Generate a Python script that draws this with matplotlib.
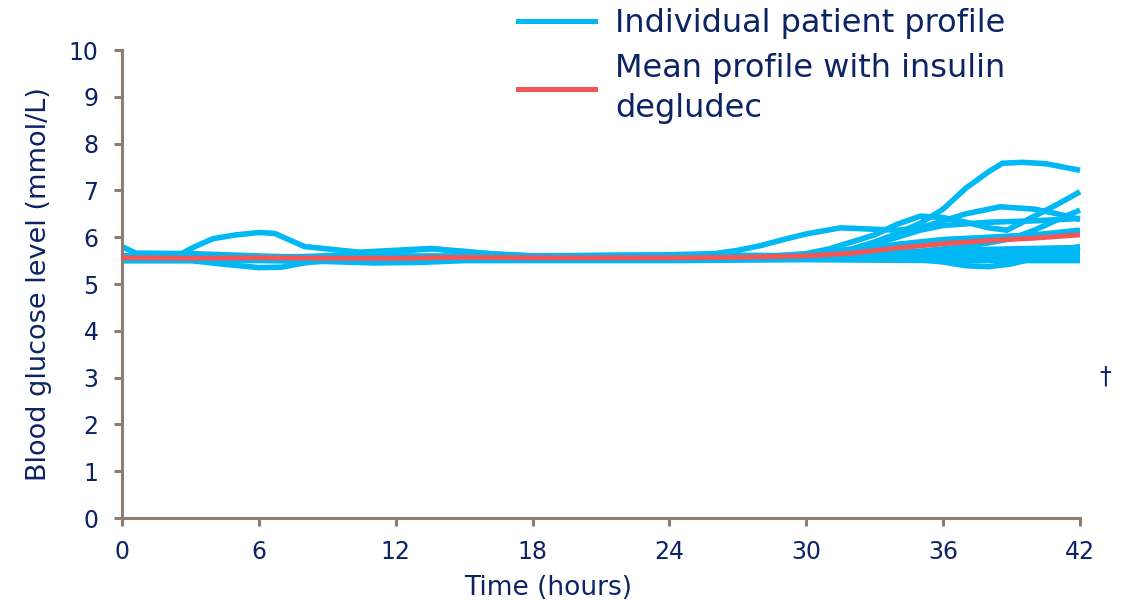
import matplotlib.pyplot as plt
from matplotlib.lines import Line2D

# colours
BLUE = "#00b8f4"
RED = "#f45555"
NAVY = "#0c2364"
AXIS = "#8c7e72"

# individual patient profiles (hours, mmol/L)
p01_t = [0, 6, 12, 18, 24, 28, 30, 32, 33, 34, 35, 36, 37, 38, 38.6, 39.5, 40.5, 42]
p01_v = [5.55, 5.52, 5.55, 5.55, 5.56, 5.58, 5.62, 5.75, 5.9, 6.08, 6.3, 6.6, 7.05, 7.4, 7.58, 7.6, 7.57, 7.43]

p02_t = [0, 2.5, 3.2, 4, 5, 6, 6.7, 7.3, 8, 9, 10.4, 12, 13.6, 15, 18, 22, 26, 27, 28, 29, 30, 31.5, 33, 34, 35, 36, 37, 38.5, 40, 41, 42]
p02_v = [5.6, 5.62, 5.8, 5.97, 6.05, 6.1, 6.08, 5.95, 5.8, 5.75, 5.68, 5.72, 5.76, 5.68, 5.6, 5.6, 5.65, 5.72, 5.82, 5.95, 6.07, 6.2, 6.17, 6.15, 6.2, 6.35, 6.5, 6.65, 6.6, 6.5, 6.38]

p03_t = [0, 6, 12, 18, 24, 28, 30, 31, 32, 33, 34, 35, 36, 37, 38, 38.8, 40, 41, 42]
p03_v = [5.55, 5.55, 5.55, 5.55, 5.55, 5.58, 5.65, 5.75, 5.9, 6.05, 6.28, 6.45, 6.42, 6.32, 6.2, 6.15, 6.45, 6.7, 6.97]

p04_t = [0, 6, 12, 18, 24, 30, 34, 36, 37, 38, 39, 40, 41, 42]
p04_v = [5.55, 5.55, 5.55, 5.55, 5.55, 5.6, 5.65, 5.75, 5.8, 5.88, 5.97, 6.15, 6.37, 6.58]

p05_t = [0, 6, 12, 18, 24, 28, 30, 32, 33, 34, 35, 36, 38, 40, 42]
p05_v = [5.52, 5.52, 5.52, 5.52, 5.52, 5.55, 5.62, 5.72, 5.85, 6.0, 6.15, 6.25, 6.32, 6.35, 6.4]

p06_t = [0, 3, 4.5, 6, 7, 8, 9, 12, 18, 24, 30, 33, 35, 36, 37, 38, 39, 40, 40.5, 41, 42]
p06_v = [5.5, 5.5, 5.42, 5.35, 5.36, 5.45, 5.5, 5.5, 5.52, 5.52, 5.55, 5.58, 5.52, 5.47, 5.39, 5.37, 5.43, 5.55, 5.66, 5.72, 5.8]

p07_t = [0, 0.6, 3, 6, 9, 12, 18, 24, 30, 34, 38, 42]
p07_v = [5.8, 5.66, 5.65, 5.6, 5.55, 5.55, 5.57, 5.57, 5.6, 5.68, 5.74, 5.78]

p08_t = [0, 6, 8, 10, 12, 13.6, 15, 16.5, 18, 22, 26, 30, 34, 38, 42]
p08_v = [5.55, 5.55, 5.58, 5.63, 5.7, 5.75, 5.7, 5.63, 5.6, 5.62, 5.62, 5.6, 5.58, 5.57, 5.55]

p09_t = [0, 6, 9, 11, 13, 15, 18, 24, 30, 36, 42]
p09_v = [5.5, 5.5, 5.48, 5.45, 5.46, 5.5, 5.5, 5.5, 5.52, 5.5, 5.5]

p10_t = [0, 6, 12, 16, 20, 24, 30, 36, 42]
p10_v = [5.6, 5.58, 5.6, 5.6, 5.57, 5.6, 5.6, 5.62, 5.65]

p11_t = [0, 6, 12, 18, 24, 28, 30, 32, 34, 36, 38, 40, 42]
p11_v = [5.57, 5.57, 5.57, 5.57, 5.57, 5.58, 5.6, 5.7, 5.85, 5.95, 6.0, 6.05, 6.15]

p12_t = [0, 6, 12, 18, 24, 30, 34, 38, 42]
p12_v = [5.53, 5.53, 5.53, 5.55, 5.55, 5.58, 5.62, 5.7, 5.72]

patients = [(p01_t, p01_v), (p02_t, p02_v), (p03_t, p03_v), (p04_t, p04_v),
            (p05_t, p05_v), (p06_t, p06_v), (p07_t, p07_v), (p08_t, p08_v),
            (p09_t, p09_v), (p10_t, p10_v), (p11_t, p11_v), (p12_t, p12_v)]

# mean profile with insulin degludec
mean_t = [0, 3, 6, 9, 12, 15, 18, 21, 24, 27, 30, 32, 34, 36, 38, 40, 42]
mean_v = [5.56, 5.55, 5.56, 5.55, 5.55, 5.57, 5.56, 5.56, 5.56, 5.57, 5.6, 5.66, 5.77, 5.86, 5.93, 5.98, 6.05]

xticks = [0, 6, 12, 18, 24, 30, 36, 42]
yticks = list(range(0, 11))

fig = plt.figure(figsize=(11.22, 6.02), dpi=100)
ax = fig.add_axes([122 / 1122, 84 / 602, 958 / 1122, 468 / 602])

for t, v in patients:
    ax.plot(t, v, color=BLUE, lw=4.0, solid_capstyle="butt", solid_joinstyle="round", clip_on=False)
ax.plot(mean_t, mean_v, color=RED, lw=3.6, solid_capstyle="butt", solid_joinstyle="round", zorder=3, clip_on=False)

ax.set_xlim(0, 42)
ax.set_ylim(0, 10)
ax.set_xticks(xticks)
ax.set_yticks(yticks)

for side in ["top", "right"]:
    ax.spines[side].set_visible(False)
for side in ["left", "bottom"]:
    ax.spines[side].set_color(AXIS)
    ax.spines[side].set_linewidth(2.2)
ax.tick_params(axis="both", direction="out", length=6, width=2.2, color=AXIS, labelcolor=NAVY)
ax.tick_params(axis="y", labelsize=17, pad=11)
ax.tick_params(axis="x", labelsize=17, pad=10)

ax.set_ylabel("Blood glucose level (mmol/L)", fontsize=19.5, color=NAVY, labelpad=12)
ax.set_xlabel("Time (hours)", fontsize=19, color=NAVY, va="center")
# the label sits left of the axis centre in the original
ax.xaxis.set_label_coords((548 - 122) / 958, (518 - 588) / 468)

handles = [Line2D([], [], color=BLUE, lw=3.6),
           Line2D([], [], color=RED, lw=3.6)]
leg = fig.legend(handles, ["Individual patient profile", "Mean profile with insulin\ndegludec"],
                 loc="upper left", bbox_to_anchor=(518 / 1122, 1 - 8 / 602),
                 frameon=False, fontsize=23, handlelength=2.4, handletextpad=0.63,
                 labelspacing=0.45, borderaxespad=0, borderpad=0)
for t in leg.get_texts():
    t.set_color(NAVY)
    t.set_linespacing(1.35)

fig.text(1105 / 1122, 1 - 377 / 602, "\u2020", fontsize=17, color=NAVY, ha="center", va="center")

fig.savefig("out.png", dpi=100)
